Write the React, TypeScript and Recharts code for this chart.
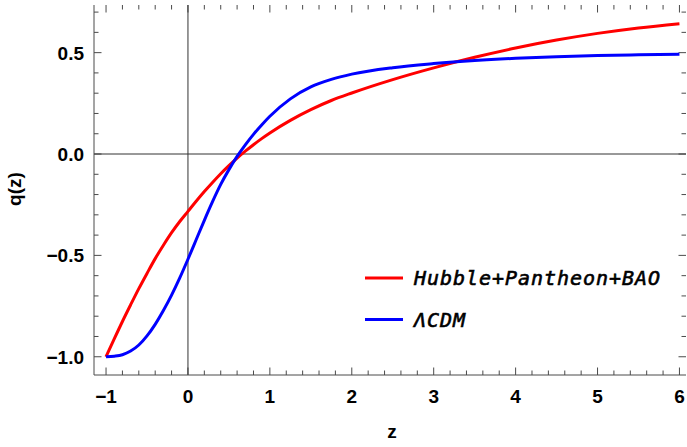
import React from 'react';
import { LineChart, Line, XAxis, YAxis, ReferenceLine, Legend } from 'recharts';

// redshift grid and deceleration parameter values
const Z = [-1, -0.9, -0.8, -0.7, -0.6, -0.5, -0.4, -0.3, -0.2, -0.1, 0, 0.1, 0.2, 0.3, 0.4, 0.5, 0.6, 0.7, 0.8, 0.9, 1.0, 1.25, 1.5, 1.75, 2, 2.5, 3, 3.5, 4, 4.5, 5, 5.5, 6];
const Q_HUBBLE = [-1.0, -0.912, -0.826, -0.744, -0.664, -0.589, -0.516, -0.45, -0.388, -0.333, -0.283, -0.233, -0.185, -0.14, -0.097, -0.057, -0.02, 0.014, 0.046, 0.076, 0.104, 0.166, 0.219, 0.264, 0.301, 0.367, 0.425, 0.477, 0.523, 0.562, 0.595, 0.622, 0.643];
const Q_LCDM = [-1.0, -0.997, -0.99, -0.972, -0.942, -0.897, -0.84, -0.772, -0.696, -0.611, -0.519, -0.423, -0.327, -0.235, -0.15, -0.077, -0.012, 0.045, 0.097, 0.143, 0.186, 0.272, 0.331, 0.368, 0.394, 0.426, 0.446, 0.461, 0.472, 0.48, 0.486, 0.489, 0.492];

const SERIES_NAMES = ['Hubble+Pantheon+BAO', 'ΛCDM'];
const SERIES_COLORS = ['#ff0000', '#0000ff'];

const X_MAJOR = [-1, 0, 1, 2, 3, 4, 5, 6];
const X_LABELS = ['\u22121', '0', '1', '2', '3', '4', '5', '6'];
const Y_MAJOR = [-1, -0.5, 0, 0.5];
const Y_LABELS = ['\u22121.0', '\u22120.5', '0.0', '0.5'];

const X_DOMAIN = [-1.147, 6.08];
const Y_DOMAIN = [-1.09, 0.735];

const data = Z.map((z, i) => ({ z, hub: Q_HUBBLE[i], lcdm: Q_LCDM[i] }));

const xTicks = Array.from({ length: 36 }, (_, i) => +(-1 + i * 0.2).toFixed(2));
const yTicks = Array.from({ length: 18 }, (_, i) => +(-1 + i * 0.1).toFixed(2));

const FRAME = '#4a4a4a';
const FONT = "'Liberation Sans', Arial, sans-serif";
const LEG_FONT = "'DejaVu Sans Mono', monospace";

// plot box in pixels (used only to convert frame tick lengths into axis units)
const PLOT_W = 592;
const PLOT_H = 370;
const UX = (X_DOMAIN[1] - X_DOMAIN[0]) / PLOT_W;
const UY = (Y_DOMAIN[1] - Y_DOMAIN[0]) / PLOT_H;

const near = (a: number, b: number) => Math.abs(a - b) < 1e-6;
const isMajor = (v: number, step: number) => near(v / step, Math.round(v / step));

const BottomLabel = (props: any) => {
  const { x, y, payload } = props;
  const idx = X_MAJOR.findIndex((m) => near(m, payload.value));
  if (idx < 0) return <g />;
  return (
    <text x={x} y={y + 28} textAnchor="middle" fontFamily={FONT} fontWeight="bold" fontSize={19} fill="#000" stroke="none">
      {X_LABELS[idx]}
    </text>
  );
};

const LeftLabel = (props: any) => {
  const { x, y, payload } = props;
  const idx = Y_MAJOR.findIndex((m) => near(m, payload.value));
  if (idx < 0) return <g />;
  return (
    <text x={x - 10} y={y + 7} textAnchor="end" fontFamily={FONT} fontWeight="bold" fontSize={19} fill="#000" stroke="none">
      {Y_LABELS[idx]}
    </text>
  );
};

const YTitle = () => (
  <text x={0} y={0} transform="translate(21,189) rotate(-90)" textAnchor="middle" fontFamily={FONT} fontWeight="bold" fontSize={19} fill="#000">
    q(z)
  </text>
);

const XTitle = () => (
  <text x={392} y={438} textAnchor="middle" fontFamily={FONT} fontWeight="bold" fontSize={19} fill="#000">
    z
  </text>
);

const LegendBox = () => (
  <svg width={320} height={80} style={{ display: 'block' }}>
    {SERIES_NAMES.map((name, i) => {
      const cy = 20 + i * 41.5;
      return (
        <g key={name}>
          <line x1={5} x2={43} y1={cy} y2={cy} stroke={SERIES_COLORS[i]} strokeWidth={3} />
          <text
            x={54}
            y={cy + 7}
            fontFamily={LEG_FONT}
            fontStyle="italic"
            fontSize={20}
            fill="#000"
            stroke="#000"
            strokeWidth={0.6}
            textLength={i === 0 ? 246 : 51}
            lengthAdjust="spacing"
          >
            {name}
          </text>
        </g>
      );
    })}
  </svg>
);

// frame tick marks, drawn as short segments through the chart's own scales
const xFrameTicks = xTicks.flatMap((v) => {
  const len = (isMajor(v, 1) ? 7.5 : 4.5) * UY;
  return [
    <ReferenceLine key={`xb${v}`} ifOverflow="visible" stroke={FRAME} strokeWidth={1}
      segment={[{ x: v, y: Y_DOMAIN[0] }, { x: v, y: Y_DOMAIN[0] + len }]} />,
    <ReferenceLine key={`xt${v}`} ifOverflow="visible" stroke={FRAME} strokeWidth={1}
      segment={[{ x: v, y: Y_DOMAIN[1] }, { x: v, y: Y_DOMAIN[1] - len }]} />,
  ];
});
const yFrameTicks = yTicks.flatMap((v) => {
  const len = (isMajor(v, 0.5) ? 7.5 : 4.5) * UX;
  return [
    <ReferenceLine key={`yl${v}`} ifOverflow="visible" stroke={FRAME} strokeWidth={1}
      segment={[{ x: X_DOMAIN[0], y: v }, { x: X_DOMAIN[0] + len, y: v }]} />,
    <ReferenceLine key={`yr${v}`} ifOverflow="visible" stroke={FRAME} strokeWidth={1}
      segment={[{ x: X_DOMAIN[1], y: v }, { x: X_DOMAIN[1] - len, y: v }]} />,
  ];
});

export default function App() {
  return (
    <div style={{ position: 'absolute', left: 0, top: 0, width: 687, height: 447, background: '#fff' }}>
      <LineChart width={687} height={447} data={data} margin={{ top: 5, right: 1, bottom: 0, left: 0 }}>
        <XAxis
          dataKey="z"
          type="number"
          domain={X_DOMAIN}
          allowDataOverflow
          ticks={xTicks}
          interval={0}
          tickSize={0}
          tickMargin={0}
          tick={<BottomLabel />}
          tickLine={false}
          axisLine={{ stroke: FRAME, strokeWidth: 1 }}
          height={72}
          label={{ content: XTitle }}
        />
        <XAxis
          xAxisId="top"
          orientation="top"
          dataKey="z"
          type="number"
          domain={X_DOMAIN}
          allowDataOverflow
          tick={false}
          tickLine={false}
          axisLine={{ stroke: FRAME, strokeWidth: 1 }}
          height={0}
        />
        <YAxis
          type="number"
          domain={Y_DOMAIN}
          allowDataOverflow
          ticks={yTicks}
          interval={0}
          tickSize={0}
          tickMargin={0}
          tick={<LeftLabel />}
          tickLine={false}
          axisLine={{ stroke: FRAME, strokeWidth: 1 }}
          width={94}
          label={{ content: YTitle }}
        />
        <YAxis
          yAxisId="right"
          orientation="right"
          type="number"
          domain={Y_DOMAIN}
          allowDataOverflow
          tick={false}
          tickLine={false}
          axisLine={{ stroke: FRAME, strokeWidth: 1 }}
          width={0}
        />
        {xFrameTicks}
        {yFrameTicks}
        <ReferenceLine x={0} stroke="#333" strokeWidth={1} />
        <ReferenceLine y={0} stroke="#333" strokeWidth={1} />
        <Line type="monotone" dataKey="hub" name={SERIES_NAMES[0]} stroke={SERIES_COLORS[0]} strokeWidth={3} dot={false} isAnimationActive={false} />
        <Line type="monotone" dataKey="lcdm" name={SERIES_NAMES[1]} stroke={SERIES_COLORS[1]} strokeWidth={3} dot={false} isAnimationActive={false} />
        <Legend
          layout="horizontal"
          verticalAlign="middle"
          align="center"
          wrapperStyle={{ position: 'absolute', left: 360, top: 258, width: 320, height: 80 }}
          content={() => <LegendBox />}
        />
      </LineChart>
    </div>
  );
}
